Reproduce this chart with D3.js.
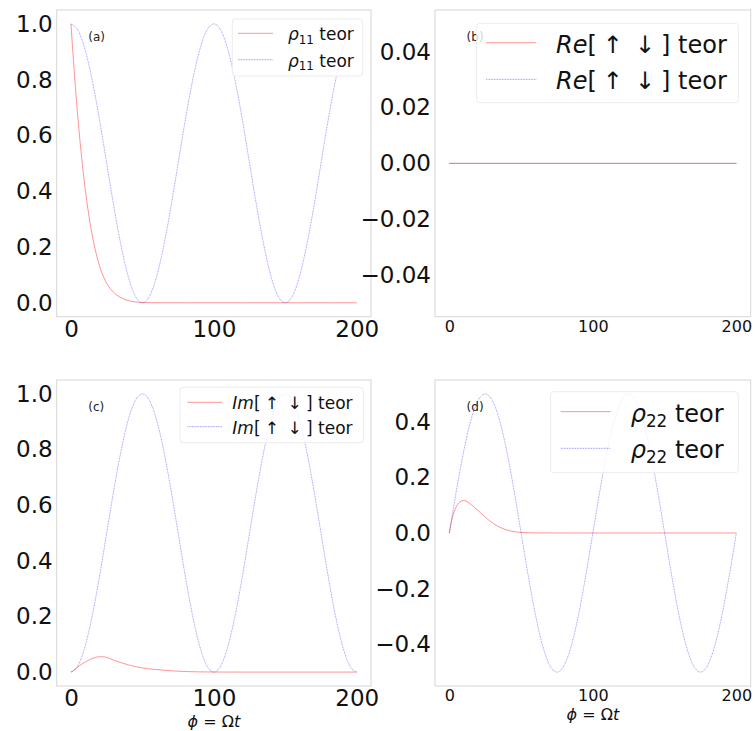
<!DOCTYPE html>
<html><head><meta charset="utf-8">
<script src="https://cdn.jsdelivr.net/npm/d3@7"></script>
<style>
body{margin:0;background:#fff}
svg{display:block}
text{font-family:"DejaVu Sans",sans-serif;fill:#111}
</style>
</head><body>
<script>
// ---------------- data ----------------
const xTicks = [0, 100, 200];
const xBlue = [0,5,10,15,20,25,30,35,40,45,50,55,60,65,70,75,80,85,90,95,100,
               105,110,115,120,125,130,135,140,145,150,155,160,165,170,175,180,185,190,195,200];
const xRed  = [0,1,2,3,4,5,6,7,8,9,10,12,14,16,18,20,22,25,28,31,35,40,45,50,60,80,100,120,140,160,180,200];
const xFlat = [0, 200];

// (a) rho11
const rho11Red  = [1,0.922,0.849,0.780,0.715,0.654,0.597,0.544,0.495,0.449,0.406,0.331,0.266,0.213,0.169,0.132,0.103,0.070,0.048,0.032,0.018,0.008,0.003,0.001,0,0,0,0,0,0,0,0];
const rho11Blue = [1,0.976,0.905,0.794,0.655,0.5,0.345,0.206,0.095,0.024,0,0.024,0.095,0.206,0.345,0.5,0.655,0.794,0.905,0.976,1,
                   0.976,0.905,0.794,0.655,0.5,0.345,0.206,0.095,0.024,0,0.024,0.095,0.206,0.345,0.5,0.655,0.794,0.905,0.976,1];
// (b) Re
const reRed  = [0, 0];
const reBlue = [0, 0];
// (c) Im
const imRed  = [0,0.003,0.007,0.011,0.015,0.019,0.023,0.027,0.030,0.033,0.036,0.042,0.047,0.051,0.054,0.055,0.055,0.053,0.047,0.041,0.034,0.026,0.020,0.015,0.009,0.002,0.0003,0,0,0,0,0];
const imBlue = [0,0.024,0.095,0.206,0.345,0.5,0.655,0.794,0.905,0.976,1,0.976,0.905,0.794,0.655,0.5,0.345,0.206,0.095,0.024,0,
                0.024,0.095,0.206,0.345,0.5,0.655,0.794,0.905,0.976,1,0.976,0.905,0.794,0.655,0.5,0.345,0.206,0.095,0.024,0];
// (d) rho22
const rho22Red  = [0,0.030,0.053,0.071,0.085,0.096,0.104,0.110,0.114,0.116,0.117,0.114,0.107,0.099,0.090,0.081,0.071,0.057,0.044,0.033,0.021,0.011,0.005,0.002,0.0003,0,0,0,0,0,0,0];
const rho22Blue = [0,0.155,0.294,0.405,0.476,0.5,0.476,0.405,0.294,0.155,0,-0.155,-0.294,-0.405,-0.476,-0.5,-0.476,-0.405,-0.294,-0.155,0,
                   0.155,0.294,0.405,0.476,0.5,0.476,0.405,0.294,0.155,0,-0.155,-0.294,-0.405,-0.476,-0.5,-0.476,-0.405,-0.294,-0.155,0];

const yTicksA = [0, 0.2, 0.4, 0.6, 0.8, 1.0];
const yTicksB = [-0.04, -0.02, 0, 0.02, 0.04];
const yTicksC = [0, 0.2, 0.4, 0.6, 0.8, 1.0];
const yTicksD = [-0.4, -0.2, 0, 0.2, 0.4];
const panelLabels = ["(a)", "(b)", "(c)", "(d)"];

// ---------------- drawing ----------------
const svg = d3.select("body").append("svg").attr("width", 755).attr("height", 731);
const RED = "rgba(255,0,0,0.42)", BLUE = "rgba(0,0,255,0.42)";

function mathLabel(t, kind, fs) {
  if (kind === "rho11" || kind === "rho22") {
    t.append("tspan").style("font-style", "italic").text("ρ");
    t.append("tspan").attr("font-size", fs * 0.7).attr("dy", fs * 0.2).text(kind === "rho11" ? "11" : "22");
    t.append("tspan").attr("dy", -fs * 0.2).text("\u00a0teor");
  } else {
    t.append("tspan").style("font-style", "italic").text(kind === "re" ? "Re" : "Im");
    t.append("tspan").text("[");
    t.append("tspan").attr("dx", fs * 0.25).text("↑");
    t.append("tspan").attr("dx", fs * 0.5).text("↓");
    t.append("tspan").attr("dx", fs * 0.25).text("]");
    t.append("tspan").text("\u00a0teor");
  }
}

function panel(cfg) {
  const x = d3.scaleLinear().domain([-10, 210]).range([cfg.left, cfg.right]);
  const y = d3.scaleLinear().domain(cfg.ydom).range([cfg.bottom, cfg.top]);
  const g = svg.append("g");
  g.append("rect").attr("x", cfg.left).attr("y", cfg.top)
    .attr("width", cfg.right - cfg.left).attr("height", cfg.bottom - cfg.top)
    .attr("fill", "#fff").attr("stroke", "#d6d6d6").attr("stroke-width", 1);

  const line = d3.line().x(d => x(d[0])).y(d => y(d[1])).curve(d3.curveMonotoneX);
  g.append("path").datum(d3.zip(cfg.xr, cfg.red)).attr("d", line)
    .attr("fill", "none").attr("stroke", RED).attr("stroke-width", 1);
  g.append("path").datum(d3.zip(cfg.xb, cfg.blue)).attr("d", line)
    .attr("fill", "none").attr("stroke", BLUE).attr("stroke-width", 0.9).attr("stroke-dasharray", "0.9,0.7");

  const ya = g.append("g").attr("transform", `translate(${cfg.left},0)`)
    .call(d3.axisLeft(y).tickValues(cfg.yticks).tickFormat(d3.format(cfg.yfmt)).tickSize(0).tickPadding(4));
  ya.select(".domain").remove();
  ya.selectAll("text").attr("font-size", 23).attr("font-family", "DejaVu Sans").attr("fill", "#111");

  const xa = g.append("g").attr("transform", `translate(0,${cfg.bottom})`)
    .call(d3.axisBottom(x).tickValues(xTicks).tickFormat(d3.format("d")).tickSize(0).tickPadding(3.5));
  xa.select(".domain").remove();
  xa.selectAll("text").attr("font-size", cfg.xfs).attr("font-family", "DejaVu Sans").attr("fill", "#111");

  g.append("text").attr("x", cfg.left + 31.6).attr("y", cfg.top + 30.5)
    .attr("font-size", 12).style("fill", "#222").text(cfg.label);

  // legend
  const L = cfg.legend;
  g.append("rect").attr("x", L.x0).attr("y", L.y0).attr("width", L.x1 - L.x0).attr("height", L.y1 - L.y0)
    .attr("rx", 3).attr("fill", "rgba(255,255,255,0.8)").attr("stroke", "#ececec").attr("stroke-width", 1);
  [[RED, null], [BLUE, "0.9,0.7"]].forEach((s, i) => {
    const ry = L.rows[i];
    g.append("line").attr("x1", L.lx0).attr("x2", L.lx1).attr("y1", ry).attr("y2", ry)
      .attr("stroke", s[0]).attr("stroke-width", 1).attr("stroke-dasharray", s[1]);
    const t = g.append("text").attr("x", L.tx).attr("y", ry + 0.42 * L.fs).attr("font-size", L.fs);
    mathLabel(t, cfg.kind, L.fs);
  });

  if (cfg.xlabel) {
    const t = g.append("text").attr("x", (cfg.left + cfg.right) / 2).attr("y", cfg.xlabelY)
      .attr("font-size", 16).attr("text-anchor", "middle");
    t.append("tspan").style("font-style", "italic").text("ϕ");
    t.append("tspan").text(" = Ω");
    t.append("tspan").style("font-style", "italic").text("t");
  }
}

panel({left: 56.7, right: 371, top: 10, bottom: 316.7, ydom: [-0.05, 1.05], yticks: yTicksA, yfmt: ".1f", xfs: 23,
  xr: xRed, red: rho11Red, xb: xBlue, blue: rho11Blue, label: panelLabels[0], kind: "rho11",
  legend: {x0: 232.3, x1: 362.7, y0: 19, y1: 76, rows: [33.3, 59.7], lx0: 238, lx1: 273, tx: 288, fs: 17}});
panel({left: 435, right: 750.7, top: 10, bottom: 316.7, ydom: [-0.055, 0.055], yticks: yTicksB, yfmt: ".2f", xfs: 16,
  xr: xFlat, red: reRed, xb: xFlat, blue: reBlue, label: panelLabels[1], kind: "re",
  legend: {x0: 476.7, x1: 738.3, y0: 23.3, y1: 102.7, rows: [42.7, 79.3], lx0: 486, lx1: 536.3, tx: 556, fs: 24}});
panel({left: 56.7, right: 371, top: 380, bottom: 686, ydom: [-0.05, 1.05], yticks: yTicksC, yfmt: ".1f", xfs: 23,
  xr: xRed, red: imRed, xb: xBlue, blue: imBlue, label: panelLabels[2], kind: "im", xlabel: true, xlabelY: 727,
  legend: {x0: 180, x1: 363.3, y0: 387.3, y1: 442.7, rows: [402.3, 426.7], lx0: 187.3, lx1: 222.3, tx: 232.3, fs: 17}});
panel({left: 435, right: 750.7, top: 380, bottom: 686, ydom: [-0.55, 0.55], yticks: yTicksD, yfmt: ".1f", xfs: 16,
  xr: xRed, red: rho22Red, xb: xBlue, blue: rho22Blue, label: panelLabels[3], kind: "rho22", xlabel: true, xlabelY: 720,
  legend: {x0: 550.7, x1: 738.3, y0: 391.7, y1: 472.7, rows: [411.7, 448.3], lx0: 560.7, lx1: 610.7, tx: 630.7, fs: 24}});
</script>
</body></html>
